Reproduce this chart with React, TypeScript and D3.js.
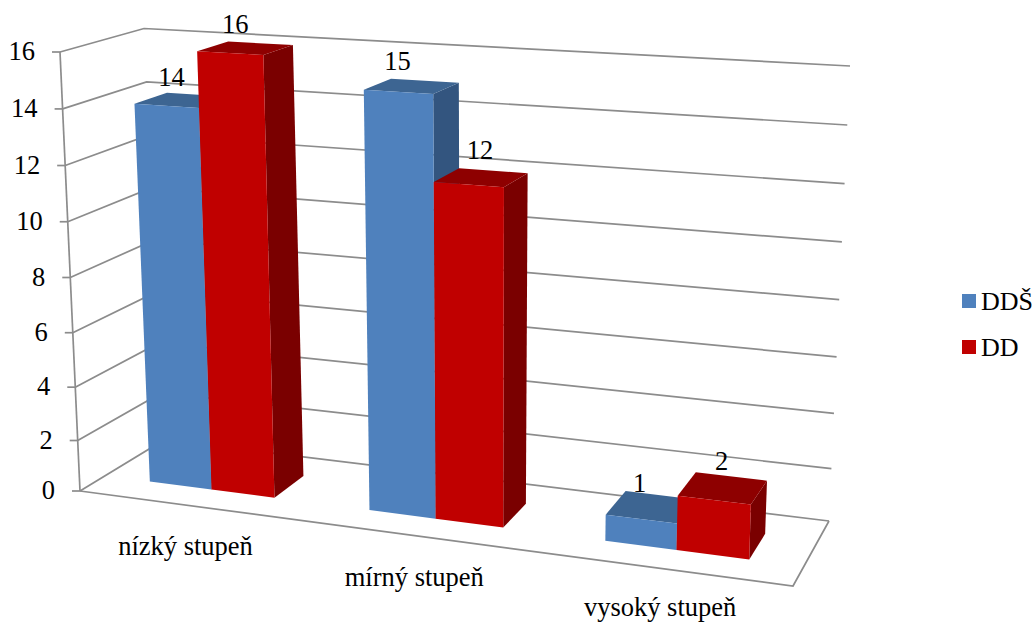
import React from "react";
import * as d3 from "d3";

const categories = ["nízký stupeň", "mírný stupeň", "vysoký stupeň"];
const seriesNames = ["DDŠ", "DD"];
const ddsValues = [14, 15, 1];
const ddValues = [16, 12, 2];
const yTicks = [0, 2, 4, 6, 8, 10, 12, 14, 16];

const seriesValues = [ddsValues, ddValues];
const palette = [
  { front: "#4F81BD", top: "#3D6592", side: "#33557F" },
  { front: "#C00000", top: "#8E0000", side: "#7A0000" },
];
// hand placement of the value labels relative to the centre of each bar's top
const labelNudge = [
  [[-11, -23], [-14, -25], [-11, -24]],
  [[-10, -24], [-1, -28], [-1, -27]],
];

const W = 1035;
const H = 622;
const FONT = "'Liberation Serif', 'Times New Roman', serif";
const GRID = "#8C8C8C";

// box corners on screen: [front|back][left|right][floor|ceiling]
const FL0 = [80, 491], FL1 = [60, 52];
const BL0 = [164, 440], BL1 = [144, 28.5];
const FR0 = [793, 586], FR1 = [808, 95];
const BR0 = [829, 521], BR1 = [850, 66];

const lerp = (a: number, b: number, k: number) => a + (b - a) * k;
const lerpP = (a: number[], b: number[], k: number) => [lerp(a[0], b[0], k), lerp(a[1], b[1], k)];

const valueToHeight = d3.scalePow().exponent(1.04).domain([0, 16]).range([0, 1]);
const persp = 1.114;
const acrossToU = (t: number) => t / (persp + (1 - persp) * t);

function project(t: number, value: number, w: number): number[] {
  const u = acrossToU(t);
  const v = valueToHeight(value);
  const floor = lerpP(lerpP(FL0, FR0, u), lerpP(BL0, BR0, u), w);
  const ceil = lerpP(lerpP(FL1, FR1, u), lerpP(BL1, BR1, u), w);
  return lerpP(floor, ceil, v);
}

const xGroup = d3.scaleBand<string>().domain(categories).range([0, 1]).paddingInner(0.424).paddingOuter(0.212);
const xSeries = d3.scaleBand<string>().domain(seriesNames).range([0, xGroup.bandwidth()]);
const W_FRONT = 0.3;
const W_BACK = 0.7;

const path = d3.line<number[]>().x((d) => d[0]).y((d) => d[1]);
const poly = (pts: number[][]) => path(pts) + "Z";

function GridLines() {
  return (
    <g fill="none" stroke={GRID} strokeWidth={1.7}>
      {yTicks.map((v) => (
        <path key={v} d={path([project(0, v, 0), project(0, v, 1), project(1, v, 1)]) as string} />
      ))}
      <path d={path([project(0, 0, 0), project(1, 0, 0), project(1, 0, 1)]) as string} />
      <path d={path([project(0, 16, 0), project(0, 0, 0)]) as string} />
      {yTicks.map((v) => {
        const p = project(0, v, 0);
        return <path key={"t" + v} d={`M${p[0] - 8},${p[1]}H${p[0]}`} />;
      })}
    </g>
  );
}

function Bars() {
  return (
    <g>
      {categories.map((c, ci) =>
        seriesNames.map((s, si) => {
          const t0 = (xGroup(c) as number) + (xSeries(s) as number);
          const t1 = t0 + xSeries.bandwidth();
          const val = seriesValues[si][ci];
          const col = palette[si];
          const f00 = project(t0, 0, W_FRONT), f10 = project(t1, 0, W_FRONT);
          const f01 = project(t0, val, W_FRONT), f11 = project(t1, val, W_FRONT);
          const b10 = project(t1, 0, W_BACK);
          const b01 = project(t0, val, W_BACK), b11 = project(t1, val, W_BACK);
          return (
            <g key={c + s}>
              <path d={poly([f10, f11, b11, b10])} fill={col.side} />
              <path d={poly([f01, f11, b11, b01])} fill={col.top} />
              <path d={poly([f00, f10, f11, f01])} fill={col.front} />
            </g>
          );
        })
      )}
    </g>
  );
}

function Labels() {
  return (
    <g fontFamily={FONT} fontSize={26.5} fill="#000">
      {yTicks.map((v) => {
        const p = project(0, v, 0);
        return (
          <text key={v} x={p[0] - 25} y={p[1] - 1} textAnchor="end" dominantBaseline="central">
            {v}
          </text>
        );
      })}
      {categories.map((c) => {
        const t = (xGroup(c) as number) + xGroup.bandwidth() / 2;
        const p = project(t, 0, 0);
        return (
          <text key={c} x={p[0] - 3} y={Math.min(p[1] + 41, H - 15)} textAnchor="middle" dominantBaseline="central">
            {c}
          </text>
        );
      })}
      {categories.map((c, ci) =>
        seriesNames.map((s, si) => {
          const t = (xGroup(c) as number) + (xSeries(s) as number) + xSeries.bandwidth() / 2;
          const val = seriesValues[si][ci];
          const p = project(t, val, (W_FRONT + W_BACK) / 2);
          const [dx, dy] = labelNudge[si][ci];
          return (
            <text key={c + s} x={p[0] + dx} y={p[1] + dy} textAnchor="middle" dominantBaseline="central">
              {val}
            </text>
          );
        })
      )}
    </g>
  );
}

function Legend() {
  return (
    <g fontFamily={FONT} fontSize={26} fill="#000">
      {seriesNames.map((s, i) => (
        <g key={s} transform={`translate(962,${294 + i * 46})`}>
          <rect width={14} height={14} fill={palette[i].front} />
          <text x={19} y={7} dominantBaseline="central">{s}</text>
        </g>
      ))}
    </g>
  );
}

export default function App() {
  return (
    <svg width={W} height={H} viewBox={`0 0 ${W} ${H}`} style={{ position: "absolute", left: 0, top: 0, background: "#fff" }}>
      <GridLines />
      <Bars />
      <Labels />
      <Legend />
    </svg>
  );
}
